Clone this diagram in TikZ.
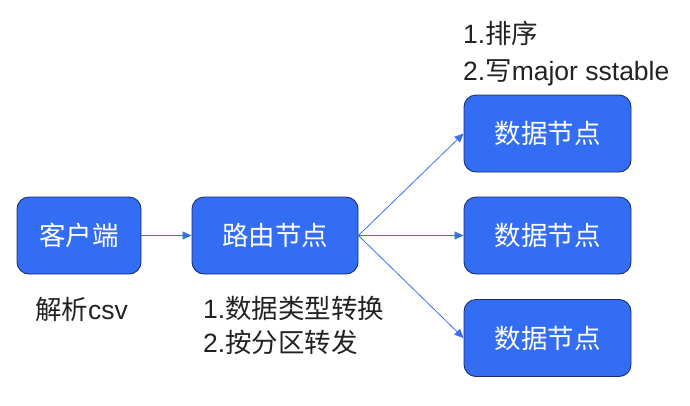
\documentclass[tikz,border=0pt]{standalone}
\usepackage{fontspec}
\setmainfont{Liberation Sans}
\newfontfamily\cjk{Noto Sans CJK SC}
\usetikzlibrary{arrows.meta}
\definecolor{boxblue}{HTML}{336DF4}
\definecolor{boxedge}{HTML}{1B2E6E}
\definecolor{arrowblue}{HTML}{3B6FEF}
\definecolor{labelgray}{HTML}{222222}
\begin{document}
\begin{tikzpicture}[x=1pt,y=-1pt,
  blockbox/.style={draw=boxedge, line width=0.9pt, fill=boxblue, rounded corners=12pt,
    text=white, font=\fontsize{26.5}{30}\selectfont\cjk, inner sep=0pt},
  labeltext/.style={text=labelgray, inner sep=0pt, align=left},
  conn/.style={draw=arrowblue, line width=0.8pt, -{Triangle[length=9pt,width=8pt]}}]
\useasboundingbox (0,0) rectangle (690,405);
\node[blockbox, minimum width=124pt, minimum height=77pt] (client) at (79,235.5) {客户端};
\node[blockbox, minimum width=166pt, minimum height=77pt] (router) at (275,235.5) {路由节点};
\node[blockbox, minimum width=167pt, minimum height=77pt] (d1) at (547.5,133.5) {数据节点};
\node[blockbox, minimum width=167pt, minimum height=77pt] (d2) at (547.5,235.5) {数据节点};
\node[blockbox, minimum width=167pt, minimum height=77pt] (d3) at (547.5,338) {数据节点};
\draw[conn] (client.east) -- (router.west);
\draw[conn] (router.east) -- (d1.west);
\draw[conn] (router.east) -- (d2.west);
\draw[conn] (router.east) -- (d3.west);
\node[labeltext, font=\fontsize{26.5}{37}\selectfont, anchor=west] (toplabel) at (463,53.5)
  {1.{\cjk 排序}\\2.{\cjk 写}major sstable};
\node[labeltext, font=\fontsize{26.5}{34}\selectfont, anchor=west] (routerlabel) at (203,325)
  {1.{\cjk 数据类型转换}\\2.{\cjk 按分区转发}};
\node[labeltext, font=\fontsize{26.5}{34}\selectfont, anchor=center] (clientlabel) at (81.5,309)
  {{\cjk 解析}csv};
\end{tikzpicture}
\end{document}
